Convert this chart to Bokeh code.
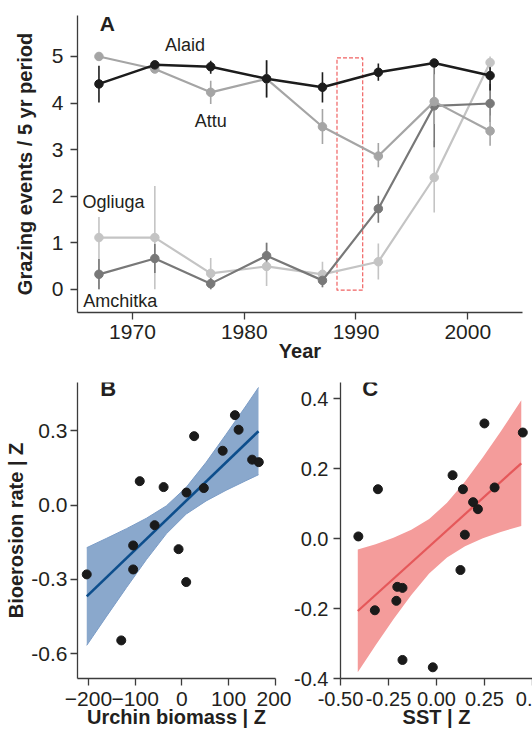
from bokeh.plotting import figure
from bokeh.layouts import column, row
from bokeh.models import FixedTicker, PrintfTickFormatter, Label, Range1d
from bokeh.embed import file_html
from bokeh.resources import INLINE
from bokeh.core.properties import value

# ---------------- Panel A data ----------------
years = [1967, 1972, 1977, 1982, 1987, 1992, 1997, 2002]

alaid = [4.41, 4.82, 4.78, 4.52, 4.34, 4.66, 4.86, 4.59]
alaid_lo = [4.01, 4.76, 4.63, 4.12, 4.01, 4.48, 4.80, 4.27]
alaid_hi = [4.80, 4.88, 4.91, 4.92, 4.66, 4.85, 4.92, 4.91]

attu = [5.00, 4.73, 4.23, 4.52, 3.49, 2.86, 4.03, 3.40]
attu_lo = [5.00, 4.73, 3.98, 4.12, 3.12, 2.62, 3.55, 3.08]
attu_hi = [5.00, 4.73, 4.48, 4.92, 3.87, 3.14, 4.62, 3.73]

amchitka = [0.32, 0.66, 0.12, 0.72, 0.19, 1.73, 3.94, 3.99]
amchitka_lo = [0.00, 0.35, 0.00, 0.43, 0.05, 1.43, 3.05, 3.59]
amchitka_hi = [0.65, 0.97, 0.25, 1.00, 0.35, 2.01, 4.84, 4.41]

ogliuga = [1.11, 1.11, 0.34, 0.49, 0.32, 0.59, 2.40, 4.87]
ogliuga_lo = [0.00, 0.00, 0.00, 0.07, 0.03, 0.21, 1.65, 4.55]
ogliuga_hi = [1.55, 2.22, 0.67, 1.00, 0.59, 0.98, 3.19, 5.00]

site_names = ["Alaid", "Attu", "Ogliuga", "Amchitka"]
site_label_x = [1974.7, 1977.0, 1968.3, 1968.9]
site_label_y = [5.25, 3.62, 1.88, -0.25]

highlight_years = [1988.3, 1990.6]
highlight_vals = [-0.02, 4.97]

a_xticks = [1970, 1980, 1990, 2000]
a_yticks = [0, 1, 2, 3, 4, 5]

# ---------------- Panel B data ----------------
urchin = [-203.8, -129.9, -104.4, -104.4, -90.3, -58.4, -39.2, -7.2, 9.8, 9.2,
          26.2, 46.9, 87.3, 113.5, 121.4, 150.4, 164.6]
bio_b = [-0.28, -0.547, -0.163, -0.26, 0.097, -0.081, 0.073, -0.178, 0.051, -0.311,
         0.279, 0.069, 0.22, 0.364, 0.305, 0.184, 0.174]
b_fit_x = [-203.8, 164.0]
b_fit_y = [-0.369, 0.299]
b_band_x = [-203.8, -161.2, -118.6, -76.0, -33.4, 9.2, 51.8, 94.4, 137.0, 164.0]
b_band_lo = [-0.567, -0.449, -0.333, -0.220, -0.116, -0.036, 0.017, 0.060, 0.099, 0.123]
b_band_hi = [-0.172, -0.134, -0.095, -0.053, -0.003, 0.072, 0.173, 0.286, 0.401, 0.476]
b_xticks = [-200, -100, 0, 100, 200]
b_yticks = [-0.6, -0.3, 0.0, 0.3]

# ---------------- Panel C data ----------------
sst = [-0.407, -0.305, -0.321, -0.204, -0.177, -0.209, -0.177, -0.019, 0.084,
       0.125, 0.138, 0.148, 0.191, 0.216, 0.250, 0.303, 0.450]
bio_c = [0.006, 0.141, -0.205, -0.138, -0.141, -0.178, -0.347, -0.368, 0.181,
         -0.090, 0.141, 0.011, 0.104, 0.084, 0.329, 0.146, 0.303]
c_fit_x = [-0.410, 0.442]
c_fit_y = [-0.207, 0.215]
c_band_x = [-0.410, -0.317, -0.224, -0.131, -0.038, 0.055, 0.149, 0.242, 0.335, 0.442]
c_band_lo = [-0.382, -0.305, -0.231, -0.161, -0.100, -0.054, -0.022, 0.001, 0.019, 0.036]
c_band_hi = [-0.031, -0.016, 0.002, 0.025, 0.056, 0.102, 0.163, 0.232, 0.306, 0.395]
c_xticks = [-0.5, -0.25, 0.0, 0.25, 0.5]
c_yticks = [-0.4, -0.2, 0.0, 0.2, 0.4]
c_edge_tick = 0.5
c_edge_label = "0."   # the original shows this last tick label cut at the edge

FONT = "Liberation Sans"
TXT = "#231f20"
AXC = "#3c3c3c"


def make_fig(w, h, xr, yr, mbl, mbr, mbt, mbb):
    p = figure(width=w, height=h, x_range=Range1d(*xr), y_range=Range1d(*yr),
               output_backend="svg", toolbar_location=None, tools="")
    p.min_border_left = mbl
    p.min_border_right = mbr
    p.min_border_top = mbt
    p.min_border_bottom = mbb
    p.outline_line_color = None
    p.grid.visible = False
    p.background_fill_color = "white"
    p.border_fill_color = "white"
    for ax in p.axis:
        ax.axis_line_color = AXC
        ax.axis_line_width = 1.3
        ax.major_tick_line_color = AXC
        ax.major_tick_line_width = 1.3
        ax.major_tick_out = 7
        ax.major_tick_in = 0
        ax.minor_tick_out = 0
        ax.minor_tick_in = 0
        ax.major_label_text_font = FONT
        ax.major_label_text_font_size = "21px"
        ax.major_label_text_color = TXT
        ax.axis_label_text_font = FONT
        ax.axis_label_text_font_size = "20px"
        ax.axis_label_text_font_style = "bold"
        ax.axis_label_text_color = TXT
    return p


# ---------------- Panel A ----------------
pa = make_fig(532, 369, (1965.08, 2004.9), (-0.5, 5.88), 77, 10, 15, 57)
pa.xaxis.ticker = FixedTicker(ticks=a_xticks)
pa.yaxis.ticker = FixedTicker(ticks=a_yticks)
pa.xaxis.axis_label = "Year"
pa.yaxis.axis_label = "Grazing events / 5 yr period"
pa.xaxis.major_label_standoff = 5
pa.xaxis.axis_label_standoff = -2
pa.yaxis.major_label_standoff = 7
pa.yaxis.axis_label_standoff = 13

pa.quad(left=[highlight_years[0]], right=[highlight_years[1]],
        bottom=[highlight_vals[0]], top=[highlight_vals[1]],
        fill_alpha=0, line_color="#f06262", line_dash="4 2", line_width=1.2)

series = [
    (ogliuga, ogliuga_lo, ogliuga_hi, "#c4c4c4", 2.2),
    (amchitka, amchitka_lo, amchitka_hi, "#787878", 2.2),
    (attu, attu_lo, attu_hi, "#a5a5a5", 2.2),
    (alaid, alaid_lo, alaid_hi, "#1c1c1c", 2.5),
]
for vals, lo, hi, col, lw in series:
    pa.segment(x0=years, y0=lo, x1=years, y1=hi, line_color=col, line_width=1.6)
for vals, lo, hi, col, lw in series:
    pa.line(years, vals, line_color=col, line_width=lw)
    pa.scatter(years, vals, size=8.5, fill_color=col, line_color=col)

pa.text(x=site_label_x, y=site_label_y, text=site_names, text_align="center",
        text_baseline="middle", text_font=value(FONT), text_font_size="18px",
        text_color=TXT)
pa.add_layout(Label(x=1967.75, y=5.70, text="A", text_align="center",
                    text_baseline="middle", text_font=FONT, text_font_size="21px",
                    text_font_style="bold", text_color=TXT))

# ---------------- Panel B ----------------
pb = make_fig(291, 370, (-223.6, 200.4), (-0.701, 0.496), 77, 16, 13, 61)
pb.xaxis.ticker = FixedTicker(ticks=b_xticks)
pb.yaxis.ticker = FixedTicker(ticks=b_yticks)
pb.yaxis.formatter = PrintfTickFormatter(format="%.1f")
pb.xaxis.axis_label = "Urchin biomass | Z"
pb.yaxis.axis_label = "Bioerosion rate | Z"
pb.xaxis.major_label_standoff = 6
pb.xaxis.axis_label_standoff = -3
pb.yaxis.major_label_standoff = 3
pb.yaxis.axis_label_standoff = 1

pb.varea(x=b_band_x, y1=b_band_lo, y2=b_band_hi, fill_color="#8aa8cc", fill_alpha=1.0)
pb.line(b_band_x, b_band_lo, line_color="#7b9cc6", line_width=1)
pb.line(b_band_x, b_band_hi, line_color="#7b9cc6", line_width=1)
pb.line(b_fit_x, b_fit_y, line_color="#0d4e8c", line_width=2.6)
pb.scatter(urchin, bio_b, size=9, fill_color="#1a1a1a", line_color="#1a1a1a")
pb.add_layout(Label(x=-158, y=0.472, text="B", text_align="center",
                    text_baseline="middle", text_font=FONT, text_font_size="22px",
                    text_font_style="bold", text_color=TXT))

# ---------------- Panel C ----------------
pc = make_fig(241, 370, (-0.5, 0.5005), (-0.4, 0.446), 45, 0, 13, 61)
pc.xaxis.ticker = FixedTicker(ticks=c_xticks)
pc.yaxis.ticker = FixedTicker(ticks=c_yticks)
pc.xaxis.formatter = PrintfTickFormatter(format="%.2f")
pc.yaxis.formatter = PrintfTickFormatter(format="%.1f")
pc.xaxis.major_label_overrides = {c_edge_tick: c_edge_label}
pc.yaxis.major_label_text_font_size = "20px"
pc.xaxis.major_label_text_font_size = "20px"
pc.xaxis.axis_label = "SST | Z"
pc.xaxis.major_label_standoff = 6
pc.xaxis.axis_label_standoff = -3
pc.yaxis.major_label_standoff = 5

pc.varea(x=c_band_x, y1=c_band_lo, y2=c_band_hi, fill_color="#f49c9b", fill_alpha=1.0)
pc.line(c_fit_x, c_fit_y, line_color="#e5585a", line_width=2.2)
pc.scatter(sst, bio_c, size=9, fill_color="#1a1a1a", line_color="#1a1a1a")
pc.add_layout(Label(x=-0.345, y=0.428, text="C", text_align="center",
                    text_baseline="middle", text_font=FONT, text_font_size="22px",
                    text_font_style="bold", text_color=TXT))

layout = column(pa, row(pb, pc))
open("out.html", "w").write(file_html(layout, INLINE))
